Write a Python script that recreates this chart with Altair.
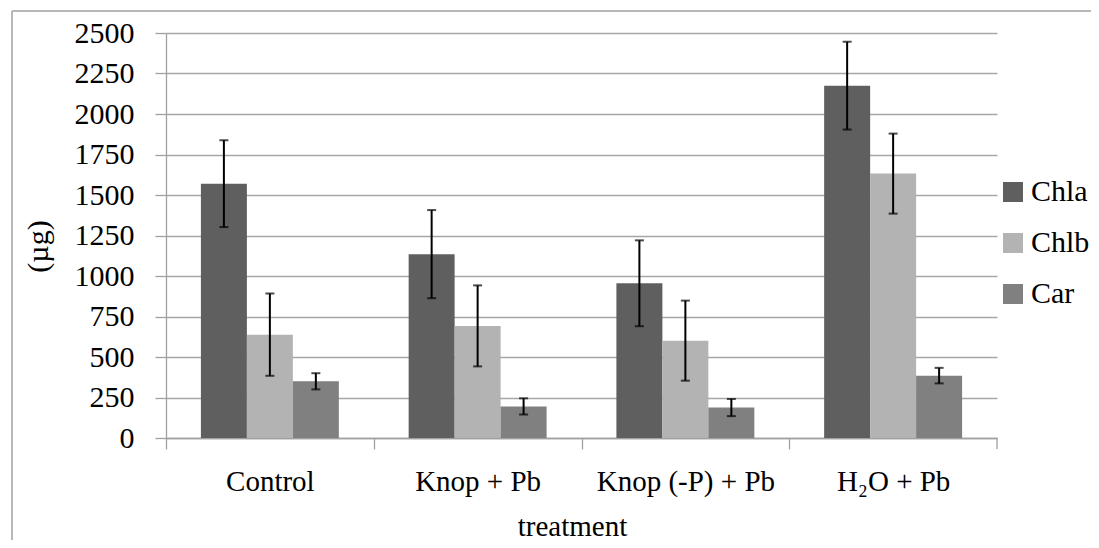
import altair as alt
import pandas as pd

treatments = ["Control", "Knop + Pb", "Knop (-P) + Pb", "H\u2082O + Pb"]
series = ["Chla", "Chlb", "Car"]
chla = [1570, 1135, 955, 2175]
chla_err = [268, 272, 265, 271]
chlb = [638, 692, 601, 1632]
chlb_err = [254, 250, 247, 247]
car = [350, 195, 188, 385]
car_err = [50, 50, 53, 48]
colors = ["#5f5f5f", "#b3b3b3", "#808080"]
y_ticks = [0, 250, 500, 750, 1000, 1250, 1500, 1750, 2000, 2250, 2500]

rows = []
for name, vals, errs in [("Chla", chla, chla_err), ("Chlb", chlb, chlb_err), ("Car", car, car_err)]:
    for t, v, e in zip(treatments, vals, errs):
        rows.append({"treatment": t, "series": name, "value": v, "lo": v - e, "hi": v + e})
df = pd.DataFrame(rows)

W, H = 831, 405
FONT = "Liberation Serif"
step = W / 4.0

x_enc = alt.X("treatment:N", sort=treatments,
              scale=alt.Scale(paddingInner=0.336, paddingOuter=0.168),
              axis=alt.Axis(title="treatment", labelAngle=0, tickOffset=-step / 2,
                            labelOffset=step / 2, titleX=406, titleY=97,
                            titleBaseline="alphabetic", titleAlign="center"))
xoff = alt.XOffset("series:N", sort=series, scale=alt.Scale(paddingInner=0, paddingOuter=0))

base = alt.Chart(df)

bars = base.mark_bar().encode(
    x=x_enc,
    xOffset=xoff,
    y=alt.Y("value:Q", scale=alt.Scale(domain=[0, 2500], nice=False),
            axis=alt.Axis(title="(\u00b5g)", values=y_ticks, format="d", titleX=-128, titleY=213,
                          titleAngle=-90, titleBaseline="middle", titleAlign="center")),
    color=alt.Color("series:N", sort=series,
                    scale=alt.Scale(domain=series, range=colors),
                    legend=alt.Legend(title=None, orient="none", legendX=832, legendY=144,
                                      symbolType="square", symbolSize=400, symbolStrokeWidth=0,
                                      labelFontSize=30, labelFont=FONT, labelColor="#000",
                                      rowPadding=21, labelOffset=3, padding=0)),
)

err = base.mark_rule(color="#000", strokeWidth=2).encode(
    x=alt.X("treatment:N", sort=treatments),
    xOffset=xoff,
    y="lo:Q",
    y2="hi:Q",
)
cap_lo = base.mark_tick(color="#000", thickness=2, size=9, orient="horizontal").encode(
    x=alt.X("treatment:N", sort=treatments), xOffset=xoff, y="lo:Q")
cap_hi = base.mark_tick(color="#000", thickness=2, size=9, orient="horizontal").encode(
    x=alt.X("treatment:N", sort=treatments), xOffset=xoff, y="hi:Q")

one = alt.Chart(pd.DataFrame({"k": [0]}))
last_tick = one.mark_rule(color="#a0a0a0", strokeWidth=1.3).encode(
    x=alt.value(W), y=alt.value(H), y2=alt.value(H + 11))
frame_left = one.mark_rule(color="#a0a0a0", strokeWidth=1.5).encode(
    x=alt.value(-154), y=alt.value(-22), y2=alt.value(520))
frame_top = one.mark_rule(color="#a0a0a0", strokeWidth=1.5).encode(
    x=alt.value(-154), x2=alt.value(940), y=alt.value(-22))

chart = alt.layer(bars, err, cap_lo, cap_hi, last_tick, frame_left, frame_top).properties(
    width=W, height=H,
    autosize=alt.AutoSizeParams(type="none"),
    padding={"left": 158, "top": 25, "right": 94, "bottom": 102},
).configure_view(stroke=None).configure_axis(
    domainColor="#a0a0a0", domainWidth=1.3, tickColor="#a0a0a0", tickWidth=1.3,
    tickSize=11, gridColor="#a6a6a6", gridWidth=1.3,
    labelFont=FONT, titleFont=FONT, labelColor="#000", titleColor="#000",
    titleFontWeight="normal",
).configure_axisY(
    grid=True, labelFontSize=30, labelPadding=21, titleFontSize=30,
).configure_axisX(
    grid=False, labelFontSize=29, labelPadding=18, titleFontSize=29,
).configure_legend(
    labelFont=FONT, labelFontSize=30, labelColor="#000",
).configure_scale(bandPaddingInner=0)

chart.save("out.html", embed_options={"renderer": "svg", "actions": False})
